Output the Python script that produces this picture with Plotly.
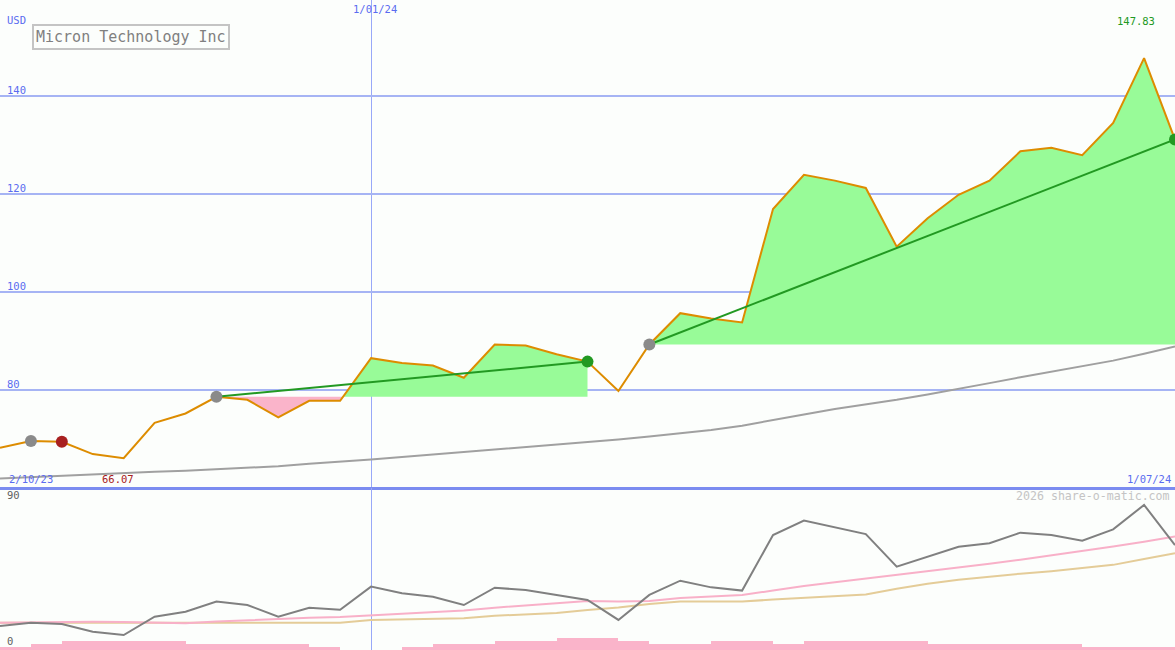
import pandas as pd
import numpy as np
import plotly.graph_objects as go

# ---------------- data ----------------
dates = pd.date_range("2023-10-09", periods=39, freq="7D")

price = [68.2, 69.56, 69.4, 66.9, 66.07, 73.3, 75.2, 78.6, 78.0, 74.4,
         77.8, 77.8, 86.5, 85.5, 85.0, 82.5, 89.3, 89.1, 87.3, 85.8,
         79.8, 89.3, 95.7, 94.6, 93.8, 117.0, 124.0, 122.8, 121.3, 109.3,
         115.1, 119.9, 122.8, 128.8, 129.5, 128.0, 134.6, 147.83, 131.2]

ma_long = [61.9, 62.2, 62.4, 62.7, 63.0, 63.3, 63.5, 63.8, 64.1, 64.4,
           64.9, 65.3, 65.8, 66.3, 66.8, 67.3, 67.8, 68.3, 68.8, 69.4,
           69.9, 70.5, 71.1, 71.8, 72.7, 73.9, 75.0, 76.1, 77.0, 78.0,
           79.1, 80.2, 81.4, 82.6, 83.7, 84.8, 86.0, 87.4, 88.9]

# lower panel indicator
osc = [13.3, 15.2, 14.4, 10.2, 8.3, 18.5, 21.3, 26.9, 25.0, 18.5,
       23.5, 22.4, 35.2, 31.5, 29.6, 25.0, 34.6, 33.3, 30.6, 27.8,
       16.7, 30.6, 38.5, 34.8, 33.0, 63.9, 71.9, 68.0, 64.4, 46.3,
       51.9, 57.4, 59.3, 65.2, 63.9, 60.7, 67.0, 80.6, 58.3]

osc_fast = [15.2, 15.5, 15.7, 15.7, 15.5, 15.0, 14.8, 15.8, 16.6, 17.4,
            17.9, 18.3, 19.2, 20.4, 21.2, 22.0, 23.5, 24.6, 26.0, 27.2,
            27.0, 27.2, 28.9, 29.8, 30.6, 33.0, 35.6, 37.6, 39.6, 41.8,
            43.8, 45.8, 47.9, 50.2, 52.5, 55.0, 57.5, 60.2, 63.0]

osc_slow = [15.2, 15.2, 15.2, 15.2, 15.2, 15.2, 15.2, 15.2, 15.2, 15.2,
            15.2, 15.2, 16.7, 16.9, 17.3, 17.6, 19.0, 19.8, 20.6, 22.2,
            23.6, 25.5, 26.9, 26.9, 27.0, 28.0, 29.0, 30.0, 30.8, 34.0,
            36.8, 39.0, 40.8, 42.4, 43.8, 45.6, 47.3, 50.5, 53.7]

volume = [1.7, 3.3, 5.0, 5.0, 5.0, 5.0, 3.3, 3.3, 3.3, 3.3,
          1.7, 0.0, 0.0, 1.7, 3.3, 3.3, 5.0, 5.0, 6.7, 6.7,
          5.0, 3.3, 3.3, 5.0, 5.0, 3.3, 5.0, 5.0, 5.0, 5.0,
          3.3, 3.3, 3.3, 3.3, 3.3, 1.7, 1.7, 1.7]

# trade segments: (start index, end index)
segments = [(1, 2), (7, 19), (21, 38)]

title_text = "Micron Technology Inc"
price_ticks = [80, 100, 120, 140]
start_label = "2/10/23"
end_label = "1/07/24"
mid_label = "1/01/24"
mid_date = pd.Timestamp("2024-01-01")

# ---------------- styles ----------------
BG = "#fcfefc"
GRID = "#a6b4f4"
VGRID = "#98a8f8"
BLUE_TXT = "#5a6cf0"
ORANGE = "#dd8c00"
GREEN_FILL = "#98fb98"
PINK_FILL = "#fab4ca"
GREEN = "#229922"
RED = "#a82020"
GRAY_MK = "#8a8a8a"
MONO = "DejaVu Sans Mono"

fig = go.Figure()

# long moving average
fig.add_trace(go.Scatter(x=dates, y=ma_long, mode="lines",
                         line=dict(color="#a0a0a0", width=2),
                         xaxis="x", yaxis="y", hoverinfo="skip"))

# segment fills
def seg_points(i0, i1, base):
    xs, ys = [], []
    for k in range(i0, i1):
        xs.append(dates[k]); ys.append(price[k])
        a, b = price[k] - base, price[k + 1] - base
        if a * b < 0:
            t = (base - price[k]) / (price[k + 1] - price[k])
            xs.append(dates[k] + (dates[k + 1] - dates[k]) * t)
            ys.append(base)
    xs.append(dates[i1]); ys.append(price[i1])
    return xs, np.array(ys)

for i0, i1 in segments:
    base = price[i0]
    xs, ys = seg_points(i0, i1, base)
    basel = [base] * len(xs)
    for arr, col in ((np.maximum(ys, base), GREEN_FILL), (np.minimum(ys, base), PINK_FILL)):
        fig.add_trace(go.Scatter(x=xs, y=basel, mode="lines", line=dict(width=0),
                                 xaxis="x", yaxis="y", hoverinfo="skip"))
        fig.add_trace(go.Scatter(x=xs, y=arr, mode="lines", line=dict(width=0),
                                 fill="tonexty", fillcolor=col,
                                 xaxis="x", yaxis="y", hoverinfo="skip"))

# price line
fig.add_trace(go.Scatter(x=dates, y=price, mode="lines",
                         line=dict(color=ORANGE, width=2),
                         xaxis="x", yaxis="y", hoverinfo="skip"))

# trend lines and markers
for i0, i1 in segments:
    gain = price[i1] >= price[i0]
    col = GREEN if gain else RED
    if gain:
        fig.add_trace(go.Scatter(x=[dates[i0], dates[i1]], y=[price[i0], price[i1]],
                                 mode="lines", line=dict(color=col, width=2),
                                 xaxis="x", yaxis="y", hoverinfo="skip"))
    fig.add_trace(go.Scatter(x=[dates[i0]], y=[price[i0]], mode="markers",
                             marker=dict(color=GRAY_MK, size=12, line=dict(width=0)),
                             xaxis="x", yaxis="y", hoverinfo="skip"))
    fig.add_trace(go.Scatter(x=[dates[i1]], y=[price[i1]], mode="markers",
                             marker=dict(color=col, size=12, line=dict(width=0)),
                             xaxis="x", yaxis="y", hoverinfo="skip"))

# lower panel
week_ms = 7 * 24 * 3600 * 1000
fig.add_trace(go.Bar(x=dates[:-1], y=volume, width=week_ms, offset=0,
                     marker=dict(color=PINK_FILL, line=dict(width=0)),
                     xaxis="x2", yaxis="y2", hoverinfo="skip"))
fig.add_trace(go.Scatter(x=dates, y=osc_slow, mode="lines",
                         line=dict(color="#e4cc98", width=2),
                         xaxis="x2", yaxis="y2", hoverinfo="skip"))
fig.add_trace(go.Scatter(x=dates, y=osc_fast, mode="lines",
                         line=dict(color="#f8b0c8", width=2),
                         xaxis="x2", yaxis="y2", hoverinfo="skip"))
fig.add_trace(go.Scatter(x=dates, y=osc, mode="lines",
                         line=dict(color="#808080", width=2),
                         xaxis="x2", yaxis="y2", hoverinfo="skip"))

xr = [dates[0], dates[-1]]
main_dom = [163 / 650, 1]
low_dom = [0, 162 / 650]

fig.update_layout(
    width=1175, height=650,
    margin=dict(l=0, r=0, t=0, b=0),
    paper_bgcolor=BG, plot_bgcolor=BG,
    showlegend=False, bargap=0,
    xaxis=dict(range=xr, domain=[0, 1], anchor="y", tickvals=[mid_date],
               showticklabels=False, ticks="", showgrid=True,
               gridcolor=VGRID, gridwidth=1, zeroline=False,
               showline=True, linecolor="#7b8cf0", linewidth=3),
    yaxis=dict(range=[60.17, 159.72], domain=main_dom, anchor="x",
               tickvals=price_ticks, showticklabels=False, ticks="",
               showgrid=True, gridcolor=GRID, gridwidth=2, zeroline=False),
    xaxis2=dict(range=xr, domain=[0, 1], anchor="y2", matches="x",
                tickvals=[mid_date], showticklabels=False, ticks="",
                showgrid=True, gridcolor=VGRID, gridwidth=1, zeroline=False),
    yaxis2=dict(range=[0, 90], domain=low_dom, anchor="x2",
                showticklabels=False, showgrid=False, zeroline=False, ticks=""),
)

ann = []
def txt(text, x, y, color, size=10.5, xanchor="left", yanchor="middle",
        xref="paper", yref="paper", **kw):
    ann.append(dict(text=text, x=x, y=y, xref=xref, yref=yref, showarrow=False,
                    xanchor=xanchor, yanchor=yanchor,
                    font=dict(family=MONO, size=size, color=color), **kw))

for v in price_ticks:
    txt(str(v), 5 / 1175, v, BLUE_TXT, yref="y", yanchor="bottom", yshift=-2)
txt("USD", 5 / 1175, 1 - 20 / 650, BLUE_TXT)
txt(mid_label, mid_date, 1 - 9 / 650, BLUE_TXT, xref="x", xanchor="center", xshift=4)
imax = int(np.argmax(price)); imin = int(np.argmin(price))
txt(f"{price[imax]:.2f}", dates[imax], 1 - 21 / 650, GREEN, xref="x",
    xanchor="center", xshift=-8)
txt(f"{price[imin]:.2f}", dates[imin], 1 - 479 / 650, RED, xref="x",
    xanchor="center", xshift=-6)
txt(start_label, 7 / 1175, 1 - 479 / 650, BLUE_TXT)
txt(end_label, 1173 / 1175, 1 - 479 / 650, BLUE_TXT, xanchor="right")
txt("90", 5 / 1175, 1 - 495 / 650, "#606060")
txt("0", 5 / 1175, 1 - 641 / 650, "#606060")
txt("2026 share-o-matic.com", 1172 / 1175, 1 - 496 / 650, "#c4c4c4",
    size=11.6, xanchor="right")
ann.append(dict(text=title_text, x=32 / 1175, y=1 - 24 / 650, xref="paper",
                yref="paper", showarrow=False, xanchor="left", yanchor="top",
                font=dict(family=MONO, size=15, color="#808080"),
                bordercolor="#c4c4c4", borderwidth=2, borderpad=2, bgcolor=BG))
fig.update_layout(annotations=ann)

fig.write_html("out.html", config={"displayModeBar": False},
               post_script="document.body.style.margin='0';document.body.style.overflow='hidden';")
